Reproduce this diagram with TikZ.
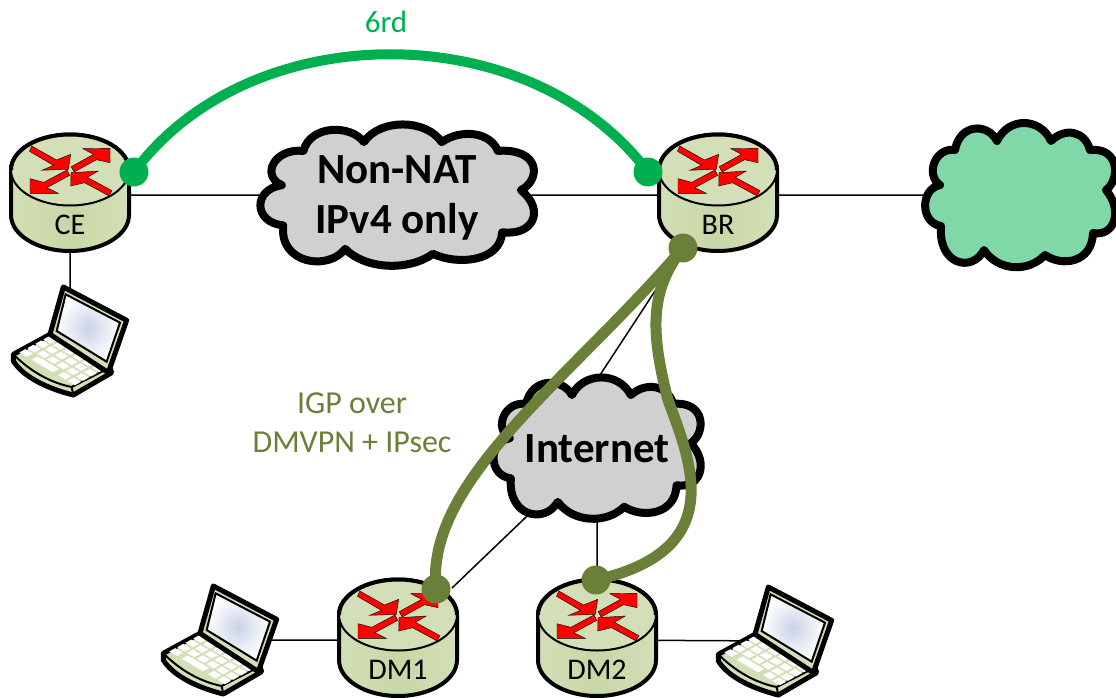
\documentclass[tikz,border=0pt]{standalone}
\usepackage{fontspec}
\setmainfont{Carlito}
\usetikzlibrary{calc}
\pgfdeclarelayer{wires}
\pgfsetlayers{wires,main}
\definecolor{routerfill}{HTML}{D3DFB7}
\definecolor{routermid}{HTML}{C8D7A6}
\definecolor{tunnelgreen}{HTML}{00B050}
\definecolor{igpolive}{HTML}{6A7F38}
\definecolor{cloudgray}{HTML}{D0D0D0}
\definecolor{cloudgreen}{HTML}{80D8A8}
\definecolor{screenblue}{HTML}{C9D3E6}

\newcommand{\cloudoutline}{(-80,-10)
    .. controls (-100,-6) and (-100,28) .. (-79,31)
    .. controls (-82,70) and (-48,78) .. (-36,55)
    .. controls (-22,76) and (8,78) .. (25,60)
    .. controls (42,72) and (72,68) .. (73,38)
    .. controls (95,42) and (103,15) .. (86,-5)
    .. controls (100,-15) and (100,-48) .. (70,-45)
    .. controls (65,-64) and (45,-68) .. (31,-54)
    .. controls (20,-78) and (-12,-78) .. (-23,-54)
    .. controls (-32,-72) and (-60,-72) .. (-65,-45)
    .. controls (-85,-48) and (-95,-20) .. (-80,-10) -- cycle}

\tikzset{
wire/.style = {draw, line width=1.5pt},
routerarrow/.style = {fill=red, draw=black, line width=0.4pt},
cloudshape/.pic = {\draw[line width=8pt, fill=#1, line join=round] \cloudoutline;},
router/.pic = {
    \coordinate (-c) at (0,0);
    \draw[line width=4pt, left color=routerfill, right color=routerfill, middle color=routermid]
        (-59,0) -- (-59,45) arc[start angle=180, end angle=0, x radius=59, y radius=36]
        -- (59,0) arc[start angle=0, end angle=-180, x radius=59, y radius=35.5] -- cycle;
    \draw[line width=2pt, fill=routerfill]
        (0,0) ellipse[x radius=59, y radius=35.5];
    \draw[line width=4pt]
        (-59,0) arc[start angle=180, end angle=360, x radius=59, y radius=35.5];
    \draw[routerarrow] (-38.2,-24) -- (-13.5,-10) -- (.7,-15.7) -- (-1.7,-.7)
        -- (-28.3,.3) -- (-16.5,-4.6) -- (-40.5,-18.7) -- cycle;
    \draw[routerarrow] (1.2,-3.3) -- (23.6,-15.7) -- (12.7,-21.3) -- (40,-21.7)
        -- (40,-7.3) -- (26.5,-10.3) -- (4.1,2) -- cycle;
    \draw[routerarrow] (-3.1,0) -- (-26.2,12.3) -- (-40,8.7) -- (-40,23.3)
        -- (-11.7,23.3) -- (-23.1,17.7) -- (-.2,5.3) -- cycle;
    \draw[routerarrow] (42,20.7) -- (17.4,7.3) -- (28.3,1) -- (1,2.7)
        -- (.7,16) -- (14.5,12.7) -- (39,25.9) -- cycle;
    \node (-t) [font=\fontsize{30}{34}\selectfont] at (0,55) {#1};
    },
laptop/.pic = {
    \coordinate (-c) at (0,0);
    \begin{scope}[scale=1/3, shift={(-210,-210)}]
    \draw[line width=5pt, fill=routerfill, line join=round]
        (40,250) -- (150,190) -- (330,290) -- (335,305) -- (220,372)
        .. controls (150,355) and (70,320) .. (40,270) -- cycle;
    \draw[line width=2pt] (40,250) .. controls (90,300) and (150,335) .. (215,348)
        -- (325,292) (215,348) -- (220,372);
    \foreach \i in {0,...,5} \foreach \j in {0,1,2} {
        \fill[white, shift={(150+\i*29-\j*24,207+\i*17+\j*13)}]
            (2,11.5) -- (20,1.5) -- (-2,-11.5) -- (-20,-1.5) -- cycle;
        }
    \foreach \i in {0,4,5} {
        \fill[white, shift={(150+\i*29-72,207+\i*17+39)}]
            (2,11.5) -- (20,1.5) -- (-2,-11.5) -- (-20,-1.5) -- cycle;
        }
    \fill[white, shift={(150+58-72,207+34+39)}]
        (23,24) -- (41,14) -- (-23,-24) -- (-41,-14) -- cycle;
    \draw[line width=5pt, fill=routerfill, line join=round]
        (190,48) -- (380,148) -- (325,305) -- (150,190) -- cycle;
    \draw[line width=2pt, inner color=screenblue, outer color=white]
        (197,70) -- (360,155) -- (320,272) -- (170,180) -- cycle;
    \end{scope}
    },
}
\begin{document}
\begin{tikzpicture}[x=1pt, y=-1pt,
dot/.style = {circle, inner sep=0pt, minimum size=29pt, fill=#1},
bigtext/.style = {align=center, font=\fontsize{43}{50}\selectfont\bfseries},
igptext/.style = {align=center, text=igpolive, font=\fontsize{32}{39}\selectfont},
                    ]
\useasboundingbox (0,0) rectangle (1116,698);
%--- clouds
\pic (natcloud) [xscale=1.44, yscale=0.98] at (397,195) {cloudshape=cloudgray};
\pic (inetcloud) [xscale=1.09, yscale=0.98] at (597,448) {cloudshape=cloudgray};
\pic (v6cloud) at (1020,195) {cloudshape=cloudgreen};
\node (nat) at (397,198) [bigtext] {Non-NAT\\IPv4 only};
\node (inet) at (597,449) [bigtext] {Internet};
\coordinate (v6) at (1020,195);
%--- routers and laptops
\pic (ce) at (70,170) {router=CE};
\pic (br) at (718,170) {router=BR};
\pic (dma) at (398,615) {router=DM1};
\pic (dmb) at (597,615) {router=DM2};
\pic (pca) at (70,341) {laptop};
\pic (pcb) at (220,640) {laptop};
\pic (pcc) at (775,641) {laptop};
%--- plain links
\coordinate (ceout) at (70,195);
\coordinate (natin) at (397,195);
\coordinate (brout) at (718,195);
\coordinate (dmaout) at (398,640);
\coordinate (dmbout) at (597,640);
\coordinate (brdown) at (674,262);
\coordinate (inetup) at (600,375);
\coordinate (dmaup) at (452,588);
\begin{pgfonlayer}{wires}
\path[wire] (ceout) -- (natin)
        (natin) -- (brout)
        (brout) -- (v6)
        (ce-c) -- (pca-c)
        (brdown) -- (inetup)
        (inet) -- (dmaup)
        (inet) -- (dmb-c)
        (dmaout) -- (pcb-c)
        (dmbout) -- (pcc-c);
\end{pgfonlayer}
%--- tunnels
\node (cetun) [dot=tunnelgreen] at (134,172) {};
\node (brtun) [dot=tunnelgreen] at (648,172) {};
\draw[line width=10pt, tunnelgreen] (cetun.center) .. controls (250,15) and (530,15) .. (brtun.center);
\node (sixrd) [text=tunnelgreen, font=\fontsize{31}{34}\selectfont] at (386,22) {6rd};
%
\node (brigp) [dot=igpolive] at (683,248) {};
\node (dmaigp) [dot=igpolive] at (436,589) {};
\node (dmbigp) [dot=igpolive] at (596,580) {};
\draw[line width=11pt, igpolive] (brigp.center) .. controls (570,380) and (425,480) .. (dmaigp.center);
\draw[line width=11pt, igpolive] (brigp.center) .. controls (650,290) and (650,330) .. (668,400)
        .. controls (690,460) and (730,550) .. (dmbigp.center);
\node (igp) [igptext] at (352,423) {IGP over\\DMVPN + IPsec};
\end{tikzpicture}
\end{document}
